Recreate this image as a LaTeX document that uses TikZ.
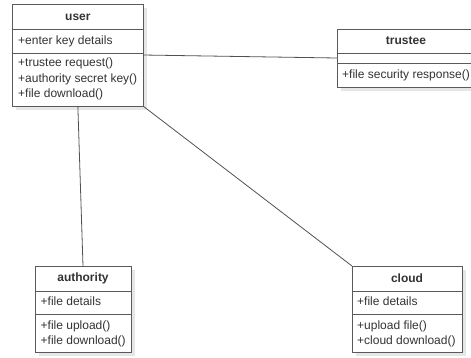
\documentclass[tikz,border=0pt]{standalone}
\usepackage{fontspec}
\setmainfont{Liberation Sans}
\definecolor{boxline}{HTML}{5A5A5A}
\definecolor{txt}{HTML}{333333}
\definecolor{shade}{HTML}{E6E6E6}
\begin{document}
\begin{tikzpicture}[x=1pt,y=-1pt,
  classbox/.style={draw=boxline, line width=1pt, fill=white, inner sep=0pt, outer sep=0pt},
  sepline/.style={draw=boxline, line width=1pt},
  ctitle/.style={font=\fontsize{12}{14}\selectfont\bfseries, text=txt, inner sep=0pt},
  member/.style={font=\fontsize{12}{14}\selectfont, text=txt, anchor=west, inner sep=0pt, text height=9pt, text depth=3pt},
  shadowbox/.style={fill=shade},
  assoc/.style={draw=boxline!90!black, line width=0.8pt}]
\useasboundingbox (0,0) rectangle (471,357);
% shadows
\fill[shadowbox] (16,8) rectangle (147,110);
\fill[shadowbox] (341,33) rectangle (479,91);
\fill[shadowbox] (39,270) rectangle (135,356);
\fill[shadowbox] (356,270) rectangle (466,356);
% user
\node[classbox, minimum width=130.3pt, minimum height=102pt] (user) at (77.85,55) {};
\draw[sepline] (12.7,29) -- (143,29);
\draw[sepline] (12.7,53) -- (143,53);
\node[ctitle] (usert) at (77.85,17) {user};
\node[member] (ua1) at (18,41) {+enter key details};
\node[member] (um1) at (18,63.5) {+trustee request()};
\node[member] (um2) at (18,79) {+authority secret key()};
\node[member] (um3) at (18,94.5) {+file download()};
% trustee
\node[classbox, minimum width=138pt, minimum height=58pt] (trustee) at (406,58) {};
\draw[sepline] (337,53) -- (475,53);
\draw[sepline] (337,63) -- (475,63);
\node[ctitle] (trusteet) at (406,41) {trustee};
\node[member] (tm1) at (342,75) {+file security response()};
% authority
\node[classbox, minimum width=96pt, minimum height=86pt] (authority) at (83,309) {};
\draw[sepline] (35,291) -- (131,291);
\draw[sepline] (35,314) -- (131,314);
\node[ctitle] (authorityt) at (83,278) {authority};
\node[member] (aa1) at (40.5,302) {+file details};
\node[member] (am1) at (40.5,326) {+file upload()};
\node[member] (am2) at (40.5,341) {+file download()};
% cloud
\node[classbox, minimum width=110pt, minimum height=86pt] (cloud) at (407,309) {};
\draw[sepline] (352,291) -- (462,291);
\draw[sepline] (352,314) -- (462,314);
\node[ctitle] (cloudt) at (407,278) {cloud};
\node[member] (ca1) at (357,302) {+file details};
\node[member] (cm1) at (357,326) {+upload file()};
\node[member] (cm2) at (357,341) {+cloud download()};
% associations
\draw[assoc] (user.east) -- (trustee.west);
\draw[assoc] (user.south) -- (authority.north);
\draw[assoc] (user.south east) -- (cloud.north west);
\end{tikzpicture}
\end{document}
